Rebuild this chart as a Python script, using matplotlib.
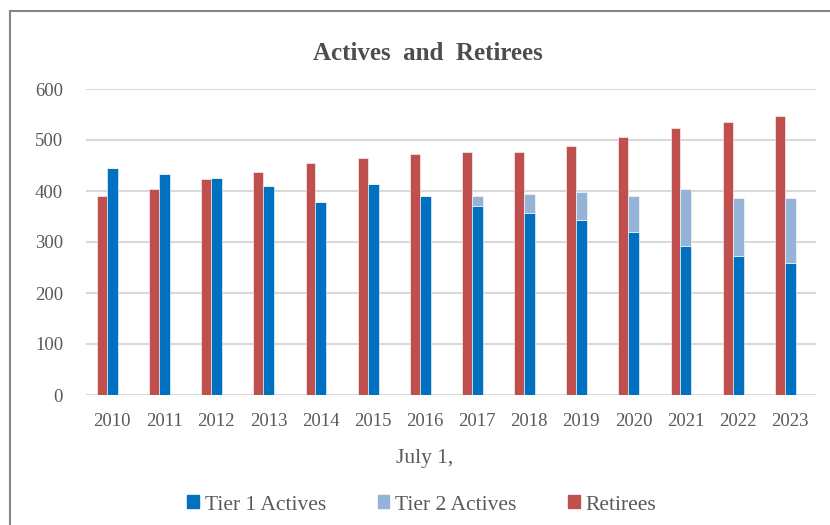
import matplotlib
matplotlib.use('Agg')
import matplotlib.pyplot as plt
import numpy as np
from matplotlib.patches import Rectangle, Patch

# dados
anos = ['2010', '2011', '2012', '2013', '2014', '2015', '2016',
        '2017', '2018', '2019', '2020', '2021', '2022', '2023']
tier1 = [446, 433, 426, 410, 379, 414, 391, 371, 356, 344, 320, 293, 273, 258]
tier2 = [0, 0, 0, 0, 0, 0, 0, 20, 39, 55, 71, 110, 114, 129]
aposentados = [391, 403, 423, 438, 454, 465, 473, 477, 477, 489, 505, 524, 536, 548]

cor_t1 = '#0070C0'
cor_t2 = '#95B3D7'
cor_ret = '#C0504D'
cinza = '#595959'

plt.rcParams['font.family'] = ['Liberation Serif', 'DejaVu Serif']

fig = plt.figure(figsize=(8.3, 5.25), dpi=100)
ax = fig.add_axes([86/830, 1 - 395/525, 730/830, 306/525])

x = np.arange(len(anos))
ax.bar(x - 0.195, aposentados, width=0.19, color=cor_ret, edgecolor='white', linewidth=0.4, zorder=3)
ax.bar(x + 0.005, tier1, width=0.21, color=cor_t1, edgecolor='white', linewidth=0.4, zorder=3)
ax.bar(x + 0.005, tier2, width=0.21, bottom=tier1, color=cor_t2, edgecolor='white', linewidth=0.4, zorder=3)

ax.set_xlim(-0.5, len(anos) - 0.5)
ax.set_ylim(0, 600)
ax.set_yticks(range(0, 601, 100))
ax.set_xticks(x)
ax.set_xticklabels(anos)
ax.grid(axis='y', color='#D9D9D9', linewidth=1.5, zorder=0)
for s in ax.spines.values():
    s.set_visible(False)
ax.tick_params(length=0, labelsize=13.5, colors=cinza)
ax.tick_params(axis='x', pad=13)
ax.tick_params(axis='y', pad=16.5)

fig.text(0.516, 1 - 53/525, 'Actives  and  Retirees', ha='center', va='center',
         fontsize=18, fontweight='bold', color='#4D4D4D')
fig.text(0.512, 1 - 459/525, 'July 1,', ha='center', va='center', fontsize=15.5, color=cinza)

handles = [Patch(color=cor_t1), Patch(color=cor_t2), Patch(color=cor_ret)]
fig.legend(handles, ['Tier 1 Actives', 'Tier 2 Actives', 'Retirees'], loc='center',
           bbox_to_anchor=(0.508, 1 - 505/525), ncol=3, frameon=False, fontsize=15.5,
           handlelength=0.55, handleheight=0.55, handletextpad=0.25, columnspacing=2.4,
           labelcolor=cinza)

# moldura do grafico
fig.patches.append(Rectangle((10/830, -0.1), 1.1, 1 - 11/525 + 0.1, transform=fig.transFigure,
                             fill=False, edgecolor='#868686', linewidth=1.5))

fig.savefig('out.png', dpi=100)
